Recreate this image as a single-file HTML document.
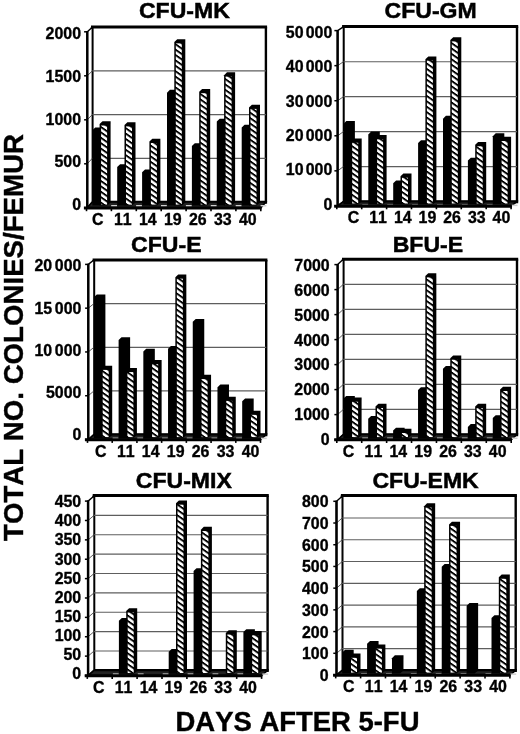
<!DOCTYPE html>
<html lang="en"><head><meta charset="utf-8"><title>Colony counts after 5-FU</title>
<style>html,body{margin:0;padding:0;background:#fff}body{width:520px;height:734px;overflow:hidden}svg text{font-kerning:none}</style></head>
<body>
<svg width="520" height="734" viewBox="0 0 520 734" style="display:block">
<defs>
<pattern id="h" width="10" height="5.4" patternUnits="userSpaceOnUse" patternTransform="translate(0 1.2) skewY(35)"><rect width="10" height="5.4" fill="#fff"/><rect width="10" height="2.25" fill="#000"/></pattern>
</defs>
<rect width="520" height="734" fill="#fff"/>
<g>
<text transform="translate(184.4 18.1) scale(1.012 1)" font-family='"Liberation Sans", Arial, Helvetica, sans-serif' font-weight="700" font-size="22.8" text-anchor="middle" fill="#000" stroke="#000" stroke-width="0.5">CFU-MK</text>
<path d="M265.9 26.9V202" stroke="#000" stroke-width="2.4" fill="none"/>
<path d="M91 26.9H267.1" stroke="#000" stroke-width="3" fill="none"/>
<path d="M92.2 26.9V202" stroke="#000" stroke-width="2.8" fill="none"/>
<path d="M92.3 202.2H267.1" stroke="#000" stroke-width="3" fill="none"/>
<path d="M92.3 27.2L87.3 31.8L87.3 207.8L92.3 202Z" fill="#fff" stroke="#000" stroke-width="1.4" stroke-linejoin="round"/>
<path d="M92.3 202L87.3 207.8L260.9 207.8L265.9 202Z" fill="#222" stroke="#000" stroke-width="1.6" stroke-linejoin="round"/>
<path d="M84.1 207.8H87.3" stroke="#000" stroke-width="1.5" fill="none"/>
<text transform="translate(81 210.23) scale(0.995 1)" font-family='"Liberation Sans", Arial, Helvetica, sans-serif' font-weight="700" font-size="16.0" text-anchor="end" fill="#000" stroke="#000" stroke-width="0.35">0</text>
<path d="M92.3 158.3H265.9" stroke="#5e5e5e" stroke-width="1.2" fill="none"/>
<path d="M92.3 158.3L87.3 163.8" stroke="#333" stroke-width="0.8" fill="none"/>
<path d="M84.1 163.8H87.3" stroke="#000" stroke-width="1.5" fill="none"/>
<text transform="translate(81 167.43) scale(0.995 1)" font-family='"Liberation Sans", Arial, Helvetica, sans-serif' font-weight="700" font-size="16.0" text-anchor="end" fill="#000" stroke="#000" stroke-width="0.35">500</text>
<path d="M92.3 114.6H265.9" stroke="#5e5e5e" stroke-width="1.2" fill="none"/>
<path d="M92.3 114.6L87.3 119.8" stroke="#333" stroke-width="0.8" fill="none"/>
<path d="M84.1 119.8H87.3" stroke="#000" stroke-width="1.5" fill="none"/>
<text transform="translate(81 124.63) scale(0.995 1)" font-family='"Liberation Sans", Arial, Helvetica, sans-serif' font-weight="700" font-size="16.0" text-anchor="end" fill="#000" stroke="#000" stroke-width="0.35">1000</text>
<path d="M92.3 70.9H265.9" stroke="#5e5e5e" stroke-width="1.2" fill="none"/>
<path d="M92.3 70.9L87.3 75.8" stroke="#333" stroke-width="0.8" fill="none"/>
<path d="M84.1 75.8H87.3" stroke="#000" stroke-width="1.5" fill="none"/>
<text transform="translate(81 81.83) scale(0.995 1)" font-family='"Liberation Sans", Arial, Helvetica, sans-serif' font-weight="700" font-size="16.0" text-anchor="end" fill="#000" stroke="#000" stroke-width="0.35">1500</text>
<path d="M84.1 31.8H87.3" stroke="#000" stroke-width="1.5" fill="none"/>
<text transform="translate(81 39.03) scale(0.995 1)" font-family='"Liberation Sans", Arial, Helvetica, sans-serif' font-weight="700" font-size="16.0" text-anchor="end" fill="#000" stroke="#000" stroke-width="0.35">2000</text>
<path d="M87.3 31.2V208.8" stroke="#000" stroke-width="2.5" fill="none"/>
<rect x="111.2" y="205" width="5.8" height="1.5" fill="#d0d0d0"/>
<path d="M92.3 130.24L95.2 127.44L103.8 127.44L103.8 202.6L100.3 205.4L92.3 205.4Z" fill="#000"/>
<path d="M99.6 124.12L102.5 121.32L110.6 121.32L110.6 202.6L107.1 205.4L99.6 205.4Z" fill="#000"/>
<rect x="101.1" y="125.52" width="6" height="79.08" fill="url(#h)"/>
<rect x="136.1" y="205" width="5.8" height="1.5" fill="#d0d0d0"/>
<path d="M117.2 166.94L120.1 164.14L128.7 164.14L128.7 202.6L125.2 205.4L117.2 205.4Z" fill="#000"/>
<path d="M124.5 124.99L127.4 122.19L135.5 122.19L135.5 202.6L132 205.4L124.5 205.4Z" fill="#000"/>
<rect x="126" y="126.39" width="6" height="78.21" fill="url(#h)"/>
<rect x="161" y="205" width="5.8" height="1.5" fill="#d0d0d0"/>
<path d="M142.1 172.19L145 169.39L153.6 169.39L153.6 202.6L150.1 205.4L142.1 205.4Z" fill="#000"/>
<path d="M149.4 141.6L152.3 138.8L160.4 138.8L160.4 202.6L156.9 205.4L149.4 205.4Z" fill="#000"/>
<rect x="150.9" y="143" width="6" height="61.6" fill="url(#h)"/>
<rect x="185.9" y="205" width="5.8" height="1.5" fill="#d0d0d0"/>
<path d="M167 92.65L169.9 89.85L178.5 89.85L178.5 202.6L175 205.4L167 205.4Z" fill="#000"/>
<path d="M174.3 41.96L177.2 39.16L185.3 39.16L185.3 202.6L181.8 205.4L174.3 205.4Z" fill="#000"/>
<rect x="175.8" y="43.36" width="6" height="161.24" fill="url(#h)"/>
<rect x="210.8" y="205" width="5.8" height="1.5" fill="#d0d0d0"/>
<path d="M191.9 145.97L194.8 143.17L203.4 143.17L203.4 202.6L199.9 205.4L191.9 205.4Z" fill="#000"/>
<path d="M199.2 91.78L202.1 88.98L210.2 88.98L210.2 202.6L206.7 205.4L199.2 205.4Z" fill="#000"/>
<rect x="200.7" y="93.18" width="6" height="111.42" fill="url(#h)"/>
<rect x="235.7" y="205" width="5.8" height="1.5" fill="#d0d0d0"/>
<path d="M216.8 121.5L219.7 118.7L228.3 118.7L228.3 202.6L224.8 205.4L216.8 205.4Z" fill="#000"/>
<path d="M224.1 75.17L227 72.37L235.1 72.37L235.1 202.6L231.6 205.4L224.1 205.4Z" fill="#000"/>
<rect x="225.6" y="76.57" width="6" height="128.03" fill="url(#h)"/>
<rect x="260.6" y="205" width="5.8" height="1.5" fill="#d0d0d0"/>
<path d="M241.7 127.61L244.6 124.81L253.2 124.81L253.2 202.6L249.7 205.4L241.7 205.4Z" fill="#000"/>
<path d="M249 107.51L251.9 104.71L260 104.71L260 202.6L256.5 205.4L249 205.4Z" fill="#000"/>
<rect x="250.5" y="108.91" width="6" height="95.69" fill="url(#h)"/>
<path d="M83.9 208.05H261.4" stroke="#000" stroke-width="3" fill="none"/>
<path d="M86.5 207.8v3.4" stroke="#000" stroke-width="1.6" fill="none"/>
<path d="M111.4 207.8v3.4" stroke="#000" stroke-width="1.6" fill="none"/>
<path d="M136.3 207.8v3.4" stroke="#000" stroke-width="1.6" fill="none"/>
<path d="M161.2 207.8v3.4" stroke="#000" stroke-width="1.6" fill="none"/>
<path d="M186.1 207.8v3.4" stroke="#000" stroke-width="1.6" fill="none"/>
<path d="M211 207.8v3.4" stroke="#000" stroke-width="1.6" fill="none"/>
<path d="M235.9 207.8v3.4" stroke="#000" stroke-width="1.6" fill="none"/>
<path d="M260.8 207.8v3.4" stroke="#000" stroke-width="1.6" fill="none"/>
<text transform="translate(97.8 225.1) scale(0.995 1)" font-family='"Liberation Sans", Arial, Helvetica, sans-serif' font-weight="700" font-size="16.0" text-anchor="middle" fill="#000" stroke="#000" stroke-width="0.35">C</text>
<text transform="translate(122.8 225.1) scale(0.995 1)" font-family='"Liberation Sans", Arial, Helvetica, sans-serif' font-weight="700" font-size="16.0" text-anchor="middle" fill="#000" stroke="#000" stroke-width="0.35">11</text>
<text transform="translate(147.8 225.1) scale(0.995 1)" font-family='"Liberation Sans", Arial, Helvetica, sans-serif' font-weight="700" font-size="16.0" text-anchor="middle" fill="#000" stroke="#000" stroke-width="0.35">14</text>
<text transform="translate(172.8 225.1) scale(0.995 1)" font-family='"Liberation Sans", Arial, Helvetica, sans-serif' font-weight="700" font-size="16.0" text-anchor="middle" fill="#000" stroke="#000" stroke-width="0.35">19</text>
<text transform="translate(197.8 225.1) scale(0.995 1)" font-family='"Liberation Sans", Arial, Helvetica, sans-serif' font-weight="700" font-size="16.0" text-anchor="middle" fill="#000" stroke="#000" stroke-width="0.35">26</text>
<text transform="translate(222.8 225.1) scale(0.995 1)" font-family='"Liberation Sans", Arial, Helvetica, sans-serif' font-weight="700" font-size="16.0" text-anchor="middle" fill="#000" stroke="#000" stroke-width="0.35">33</text>
<text transform="translate(247.8 225.1) scale(0.995 1)" font-family='"Liberation Sans", Arial, Helvetica, sans-serif' font-weight="700" font-size="16.0" text-anchor="middle" fill="#000" stroke="#000" stroke-width="0.35">40</text>
</g>
<g>
<text transform="translate(430.6 18.1) scale(1.012 1)" font-family='"Liberation Sans", Arial, Helvetica, sans-serif' font-weight="700" font-size="22.8" text-anchor="middle" fill="#000" stroke="#000" stroke-width="0.5">CFU-GM</text>
<path d="M517 26.5V201.6" stroke="#000" stroke-width="2.4" fill="none"/>
<path d="M342.1 26.5H518.2" stroke="#000" stroke-width="3" fill="none"/>
<path d="M343.3 26.5V201.6" stroke="#000" stroke-width="2.8" fill="none"/>
<path d="M343.4 201.8H518.2" stroke="#000" stroke-width="3" fill="none"/>
<path d="M343.4 26.8L337.6 30.6L337.6 205.9L343.4 201.6Z" fill="#fff" stroke="#000" stroke-width="1.4" stroke-linejoin="round"/>
<path d="M343.4 201.6L337.6 205.9L511.2 205.9L517 201.6Z" fill="#222" stroke="#000" stroke-width="1.6" stroke-linejoin="round"/>
<path d="M334.4 205.9H337.6" stroke="#000" stroke-width="1.5" fill="none"/>
<text transform="translate(332.3 209.93) scale(0.995 1)" font-family='"Liberation Sans", Arial, Helvetica, sans-serif' font-weight="700" font-size="16.0" text-anchor="end" fill="#000" stroke="#000" stroke-width="0.35">0</text>
<path d="M343.4 166.64H517" stroke="#5e5e5e" stroke-width="1.2" fill="none"/>
<path d="M343.4 166.64L337.6 170.84" stroke="#333" stroke-width="0.8" fill="none"/>
<path d="M334.4 170.84H337.6" stroke="#000" stroke-width="1.5" fill="none"/>
<text transform="translate(332.3 175.48) scale(0.995 1)" font-family='"Liberation Sans", Arial, Helvetica, sans-serif' font-weight="700" font-size="16.0" text-anchor="end" dx="0 0 2.2 0 0" fill="#000" stroke="#000" stroke-width="0.35">10000</text>
<path d="M343.4 131.68H517" stroke="#5e5e5e" stroke-width="1.2" fill="none"/>
<path d="M343.4 131.68L337.6 135.78" stroke="#333" stroke-width="0.8" fill="none"/>
<path d="M334.4 135.78H337.6" stroke="#000" stroke-width="1.5" fill="none"/>
<text transform="translate(332.3 141.03) scale(0.995 1)" font-family='"Liberation Sans", Arial, Helvetica, sans-serif' font-weight="700" font-size="16.0" text-anchor="end" dx="0 0 2.2 0 0" fill="#000" stroke="#000" stroke-width="0.35">20000</text>
<path d="M343.4 96.72H517" stroke="#5e5e5e" stroke-width="1.2" fill="none"/>
<path d="M343.4 96.72L337.6 100.72" stroke="#333" stroke-width="0.8" fill="none"/>
<path d="M334.4 100.72H337.6" stroke="#000" stroke-width="1.5" fill="none"/>
<text transform="translate(332.3 106.58) scale(0.995 1)" font-family='"Liberation Sans", Arial, Helvetica, sans-serif' font-weight="700" font-size="16.0" text-anchor="end" dx="0 0 2.2 0 0" fill="#000" stroke="#000" stroke-width="0.35">30000</text>
<path d="M343.4 61.76H517" stroke="#5e5e5e" stroke-width="1.2" fill="none"/>
<path d="M343.4 61.76L337.6 65.66" stroke="#333" stroke-width="0.8" fill="none"/>
<path d="M334.4 65.66H337.6" stroke="#000" stroke-width="1.5" fill="none"/>
<text transform="translate(332.3 72.13) scale(0.995 1)" font-family='"Liberation Sans", Arial, Helvetica, sans-serif' font-weight="700" font-size="16.0" text-anchor="end" dx="0 0 2.2 0 0" fill="#000" stroke="#000" stroke-width="0.35">40000</text>
<path d="M334.4 30.6H337.6" stroke="#000" stroke-width="1.5" fill="none"/>
<text transform="translate(332.3 37.68) scale(0.995 1)" font-family='"Liberation Sans", Arial, Helvetica, sans-serif' font-weight="700" font-size="16.0" text-anchor="end" dx="0 0 2.2 0 0" fill="#000" stroke="#000" stroke-width="0.35">50000</text>
<path d="M337.6 30V206.9" stroke="#000" stroke-width="2.5" fill="none"/>
<rect x="362.3" y="204.6" width="5.8" height="1.5" fill="#d0d0d0"/>
<path d="M343.4 123.89L346.3 121.09L354.9 121.09L354.9 201.5L351.4 204.3L343.4 204.3Z" fill="#000"/>
<path d="M350.7 141.37L353.6 138.57L361.7 138.57L361.7 201.5L358.2 204.3L350.7 204.3Z" fill="#000"/>
<rect x="352.2" y="142.77" width="6" height="60.73" fill="url(#h)"/>
<rect x="387.2" y="204.6" width="5.8" height="1.5" fill="#d0d0d0"/>
<path d="M368.3 134.38L371.2 131.58L379.8 131.58L379.8 201.5L376.3 204.3L368.3 204.3Z" fill="#000"/>
<path d="M375.6 137.88L378.5 135.08L386.6 135.08L386.6 201.5L383.1 204.3L375.6 204.3Z" fill="#000"/>
<rect x="377.1" y="139.28" width="6" height="64.22" fill="url(#h)"/>
<rect x="412.1" y="204.6" width="5.8" height="1.5" fill="#d0d0d0"/>
<path d="M393.2 183.32L396.1 180.52L404.7 180.52L404.7 201.5L401.2 204.3L393.2 204.3Z" fill="#000"/>
<path d="M400.5 176.33L403.4 173.53L411.5 173.53L411.5 201.5L408 204.3L400.5 204.3Z" fill="#000"/>
<rect x="402" y="177.73" width="6" height="25.77" fill="url(#h)"/>
<rect x="437" y="204.6" width="5.8" height="1.5" fill="#d0d0d0"/>
<path d="M418.1 143.12L421 140.32L429.6 140.32L429.6 201.5L426.1 204.3L418.1 204.3Z" fill="#000"/>
<path d="M425.4 59.22L428.3 56.42L436.4 56.42L436.4 201.5L432.9 204.3L425.4 204.3Z" fill="#000"/>
<rect x="426.9" y="60.62" width="6" height="142.88" fill="url(#h)"/>
<rect x="461.9" y="204.6" width="5.8" height="1.5" fill="#d0d0d0"/>
<path d="M443 118.65L445.9 115.85L454.5 115.85L454.5 201.5L451 204.3L443 204.3Z" fill="#000"/>
<path d="M450.3 39.99L453.2 37.19L461.3 37.19L461.3 201.5L457.8 204.3L450.3 204.3Z" fill="#000"/>
<rect x="451.8" y="41.39" width="6" height="162.11" fill="url(#h)"/>
<rect x="486.8" y="204.6" width="5.8" height="1.5" fill="#d0d0d0"/>
<path d="M467.9 160.6L470.8 157.8L479.4 157.8L479.4 201.5L475.9 204.3L467.9 204.3Z" fill="#000"/>
<path d="M475.2 144.87L478.1 142.07L486.2 142.07L486.2 201.5L482.7 204.3L475.2 204.3Z" fill="#000"/>
<rect x="476.7" y="146.27" width="6" height="57.23" fill="url(#h)"/>
<rect x="511.7" y="204.6" width="5.8" height="1.5" fill="#d0d0d0"/>
<path d="M492.8 136.13L495.7 133.33L504.3 133.33L504.3 201.5L500.8 204.3L492.8 204.3Z" fill="#000"/>
<path d="M500.1 139.62L503 136.82L511.1 136.82L511.1 201.5L507.6 204.3L500.1 204.3Z" fill="#000"/>
<rect x="501.6" y="141.02" width="6" height="62.48" fill="url(#h)"/>
<path d="M334.2 206.15H511.7" stroke="#000" stroke-width="3" fill="none"/>
<path d="M336.8 205.9v3.4" stroke="#000" stroke-width="1.6" fill="none"/>
<path d="M361.7 205.9v3.4" stroke="#000" stroke-width="1.6" fill="none"/>
<path d="M386.6 205.9v3.4" stroke="#000" stroke-width="1.6" fill="none"/>
<path d="M411.5 205.9v3.4" stroke="#000" stroke-width="1.6" fill="none"/>
<path d="M436.4 205.9v3.4" stroke="#000" stroke-width="1.6" fill="none"/>
<path d="M461.3 205.9v3.4" stroke="#000" stroke-width="1.6" fill="none"/>
<path d="M486.2 205.9v3.4" stroke="#000" stroke-width="1.6" fill="none"/>
<path d="M511.1 205.9v3.4" stroke="#000" stroke-width="1.6" fill="none"/>
<text transform="translate(353.4 223.2) scale(0.995 1)" font-family='"Liberation Sans", Arial, Helvetica, sans-serif' font-weight="700" font-size="16.0" text-anchor="middle" fill="#000" stroke="#000" stroke-width="0.35">C</text>
<text transform="translate(378.07 223.2) scale(0.995 1)" font-family='"Liberation Sans", Arial, Helvetica, sans-serif' font-weight="700" font-size="16.0" text-anchor="middle" fill="#000" stroke="#000" stroke-width="0.35">11</text>
<text transform="translate(402.74 223.2) scale(0.995 1)" font-family='"Liberation Sans", Arial, Helvetica, sans-serif' font-weight="700" font-size="16.0" text-anchor="middle" fill="#000" stroke="#000" stroke-width="0.35">14</text>
<text transform="translate(427.41 223.2) scale(0.995 1)" font-family='"Liberation Sans", Arial, Helvetica, sans-serif' font-weight="700" font-size="16.0" text-anchor="middle" fill="#000" stroke="#000" stroke-width="0.35">19</text>
<text transform="translate(452.08 223.2) scale(0.995 1)" font-family='"Liberation Sans", Arial, Helvetica, sans-serif' font-weight="700" font-size="16.0" text-anchor="middle" fill="#000" stroke="#000" stroke-width="0.35">26</text>
<text transform="translate(476.75 223.2) scale(0.995 1)" font-family='"Liberation Sans", Arial, Helvetica, sans-serif' font-weight="700" font-size="16.0" text-anchor="middle" fill="#000" stroke="#000" stroke-width="0.35">33</text>
<text transform="translate(501.42 223.2) scale(0.995 1)" font-family='"Liberation Sans", Arial, Helvetica, sans-serif' font-weight="700" font-size="16.0" text-anchor="middle" fill="#000" stroke="#000" stroke-width="0.35">40</text>
</g>
<g>
<text transform="translate(166.3 252) scale(1.012 1)" font-family='"Liberation Sans", Arial, Helvetica, sans-serif' font-weight="700" font-size="22.8" text-anchor="middle" fill="#000" stroke="#000" stroke-width="0.5">CFU-E</text>
<path d="M266.2 260V434.6" stroke="#000" stroke-width="2.4" fill="none"/>
<path d="M92.6 260H267.4" stroke="#000" stroke-width="3" fill="none"/>
<path d="M93.8 260V434.6" stroke="#000" stroke-width="2.8" fill="none"/>
<path d="M93.9 434.8H267.4" stroke="#000" stroke-width="3" fill="none"/>
<path d="M93.9 260L88.3 264.4L88.3 439.5L93.9 434.6Z" fill="#fff" stroke="#000" stroke-width="1.4" stroke-linejoin="round"/>
<path d="M93.9 434.6L88.3 439.5L260.6 439.5L266.2 434.6Z" fill="#222" stroke="#000" stroke-width="1.6" stroke-linejoin="round"/>
<path d="M85.1 439.5H88.3" stroke="#000" stroke-width="1.5" fill="none"/>
<text transform="translate(81.4 439.83) scale(0.995 1)" font-family='"Liberation Sans", Arial, Helvetica, sans-serif' font-weight="700" font-size="16.0" text-anchor="end" fill="#000" stroke="#000" stroke-width="0.35">0</text>
<path d="M93.9 390.95H266.2" stroke="#5e5e5e" stroke-width="1.2" fill="none"/>
<path d="M93.9 390.95L88.3 395.73" stroke="#333" stroke-width="0.8" fill="none"/>
<path d="M85.1 395.73H88.3" stroke="#000" stroke-width="1.5" fill="none"/>
<text transform="translate(81.4 397.73) scale(0.995 1)" font-family='"Liberation Sans", Arial, Helvetica, sans-serif' font-weight="700" font-size="16.0" text-anchor="end" fill="#000" stroke="#000" stroke-width="0.35">5000</text>
<path d="M93.9 347.3H266.2" stroke="#5e5e5e" stroke-width="1.2" fill="none"/>
<path d="M93.9 347.3L88.3 351.95" stroke="#333" stroke-width="0.8" fill="none"/>
<path d="M85.1 351.95H88.3" stroke="#000" stroke-width="1.5" fill="none"/>
<text transform="translate(81.4 355.63) scale(0.995 1)" font-family='"Liberation Sans", Arial, Helvetica, sans-serif' font-weight="700" font-size="16.0" text-anchor="end" dx="0 0 2.7 0 0" fill="#000" stroke="#000" stroke-width="0.35">10000</text>
<path d="M93.9 303.65H266.2" stroke="#5e5e5e" stroke-width="1.2" fill="none"/>
<path d="M93.9 303.65L88.3 308.17" stroke="#333" stroke-width="0.8" fill="none"/>
<path d="M85.1 308.17H88.3" stroke="#000" stroke-width="1.5" fill="none"/>
<text transform="translate(81.4 313.53) scale(0.995 1)" font-family='"Liberation Sans", Arial, Helvetica, sans-serif' font-weight="700" font-size="16.0" text-anchor="end" dx="0 0 2.7 0 0" fill="#000" stroke="#000" stroke-width="0.35">15000</text>
<path d="M85.1 264.4H88.3" stroke="#000" stroke-width="1.5" fill="none"/>
<text transform="translate(81.4 271.43) scale(0.995 1)" font-family='"Liberation Sans", Arial, Helvetica, sans-serif' font-weight="700" font-size="16.0" text-anchor="end" dx="0 0 2.7 0 0" fill="#000" stroke="#000" stroke-width="0.35">20000</text>
<path d="M88.3 263.8V440.5" stroke="#000" stroke-width="2.5" fill="none"/>
<rect x="112.61" y="437.6" width="5.8" height="1.5" fill="#d0d0d0"/>
<path d="M93.9 297.35L96.8 294.55L105.4 294.55L105.4 435.1L101.9 437.9L93.9 437.9Z" fill="#000"/>
<path d="M101.2 368.5L104.1 365.7L112.2 365.7L112.2 435.1L108.7 437.9L101.2 437.9Z" fill="#000"/>
<rect x="102.7" y="369.9" width="6" height="67.2" fill="url(#h)"/>
<rect x="137.33" y="437.6" width="5.8" height="1.5" fill="#d0d0d0"/>
<path d="M118.61 340.12L121.51 337.32L130.11 337.32L130.11 435.1L126.61 437.9L118.61 437.9Z" fill="#000"/>
<path d="M125.91 370.68L128.81 367.88L136.91 367.88L136.91 435.1L133.41 437.9L125.91 437.9Z" fill="#000"/>
<rect x="127.41" y="372.08" width="6" height="65.02" fill="url(#h)"/>
<rect x="162.04" y="437.6" width="5.8" height="1.5" fill="#d0d0d0"/>
<path d="M143.33 351.47L146.23 348.67L154.83 348.67L154.83 435.1L151.33 437.9L143.33 437.9Z" fill="#000"/>
<path d="M150.63 362.82L153.53 360.02L161.63 360.02L161.63 435.1L158.13 437.9L150.63 437.9Z" fill="#000"/>
<rect x="152.13" y="364.22" width="6" height="72.88" fill="url(#h)"/>
<rect x="186.76" y="437.6" width="5.8" height="1.5" fill="#d0d0d0"/>
<path d="M168.04 348.85L170.94 346.05L179.54 346.05L179.54 435.1L176.04 437.9L168.04 437.9Z" fill="#000"/>
<path d="M175.34 277.27L178.24 274.47L186.34 274.47L186.34 435.1L182.84 437.9L175.34 437.9Z" fill="#000"/>
<rect x="176.84" y="278.67" width="6" height="158.43" fill="url(#h)"/>
<rect x="211.47" y="437.6" width="5.8" height="1.5" fill="#d0d0d0"/>
<path d="M192.76 321.79L195.66 318.99L204.26 318.99L204.26 435.1L200.76 437.9L192.76 437.9Z" fill="#000"/>
<path d="M200.06 377.66L202.96 374.86L211.06 374.86L211.06 435.1L207.56 437.9L200.06 437.9Z" fill="#000"/>
<rect x="201.56" y="379.06" width="6" height="58.04" fill="url(#h)"/>
<rect x="236.19" y="437.6" width="5.8" height="1.5" fill="#d0d0d0"/>
<path d="M217.47 387.27L220.37 384.47L228.97 384.47L228.97 435.1L225.47 437.9L217.47 437.9Z" fill="#000"/>
<path d="M224.77 399.49L227.67 396.69L235.77 396.69L235.77 435.1L232.27 437.9L224.77 437.9Z" fill="#000"/>
<rect x="226.27" y="400.89" width="6" height="36.21" fill="url(#h)"/>
<rect x="260.9" y="437.6" width="5.8" height="1.5" fill="#d0d0d0"/>
<path d="M242.19 401.23L245.09 398.43L253.69 398.43L253.69 435.1L250.19 437.9L242.19 437.9Z" fill="#000"/>
<path d="M249.49 413.46L252.39 410.66L260.49 410.66L260.49 435.1L256.99 437.9L249.49 437.9Z" fill="#000"/>
<rect x="250.99" y="414.86" width="6" height="22.24" fill="url(#h)"/>
<path d="M84.9 439.75H261.1" stroke="#000" stroke-width="3" fill="none"/>
<path d="M87.5 439.5v3.4" stroke="#000" stroke-width="1.6" fill="none"/>
<path d="M112.21 439.5v3.4" stroke="#000" stroke-width="1.6" fill="none"/>
<path d="M136.93 439.5v3.4" stroke="#000" stroke-width="1.6" fill="none"/>
<path d="M161.64 439.5v3.4" stroke="#000" stroke-width="1.6" fill="none"/>
<path d="M186.36 439.5v3.4" stroke="#000" stroke-width="1.6" fill="none"/>
<path d="M211.07 439.5v3.4" stroke="#000" stroke-width="1.6" fill="none"/>
<path d="M235.79 439.5v3.4" stroke="#000" stroke-width="1.6" fill="none"/>
<path d="M260.5 439.5v3.4" stroke="#000" stroke-width="1.6" fill="none"/>
<text transform="translate(100.8 456.8) scale(0.995 1)" font-family='"Liberation Sans", Arial, Helvetica, sans-serif' font-weight="700" font-size="16.0" text-anchor="middle" fill="#000" stroke="#000" stroke-width="0.35">C</text>
<text transform="translate(125.75 456.8) scale(0.995 1)" font-family='"Liberation Sans", Arial, Helvetica, sans-serif' font-weight="700" font-size="16.0" text-anchor="middle" fill="#000" stroke="#000" stroke-width="0.35">11</text>
<text transform="translate(150.7 456.8) scale(0.995 1)" font-family='"Liberation Sans", Arial, Helvetica, sans-serif' font-weight="700" font-size="16.0" text-anchor="middle" fill="#000" stroke="#000" stroke-width="0.35">14</text>
<text transform="translate(175.65 456.8) scale(0.995 1)" font-family='"Liberation Sans", Arial, Helvetica, sans-serif' font-weight="700" font-size="16.0" text-anchor="middle" fill="#000" stroke="#000" stroke-width="0.35">19</text>
<text transform="translate(200.6 456.8) scale(0.995 1)" font-family='"Liberation Sans", Arial, Helvetica, sans-serif' font-weight="700" font-size="16.0" text-anchor="middle" fill="#000" stroke="#000" stroke-width="0.35">26</text>
<text transform="translate(225.55 456.8) scale(0.995 1)" font-family='"Liberation Sans", Arial, Helvetica, sans-serif' font-weight="700" font-size="16.0" text-anchor="middle" fill="#000" stroke="#000" stroke-width="0.35">33</text>
<text transform="translate(250.5 456.8) scale(0.995 1)" font-family='"Liberation Sans", Arial, Helvetica, sans-serif' font-weight="700" font-size="16.0" text-anchor="middle" fill="#000" stroke="#000" stroke-width="0.35">40</text>
</g>
<g>
<text transform="translate(427.9 252) scale(1.012 1)" font-family='"Liberation Sans", Arial, Helvetica, sans-serif' font-weight="700" font-size="22.8" text-anchor="middle" fill="#000" stroke="#000" stroke-width="0.5">BFU-E</text>
<path d="M517 259.3V434.5" stroke="#000" stroke-width="2.4" fill="none"/>
<path d="M342 259.3H518.2" stroke="#000" stroke-width="3" fill="none"/>
<path d="M343.2 259.3V434.5" stroke="#000" stroke-width="2.8" fill="none"/>
<path d="M343.3 434.7H518.2" stroke="#000" stroke-width="3" fill="none"/>
<path d="M343.3 259.3L337.6 264.6L337.6 439.6L343.3 434.5Z" fill="#fff" stroke="#000" stroke-width="1.4" stroke-linejoin="round"/>
<path d="M343.3 434.5L337.6 439.6L511.3 439.6L517 434.5Z" fill="#222" stroke="#000" stroke-width="1.6" stroke-linejoin="round"/>
<path d="M334.4 439.6H337.6" stroke="#000" stroke-width="1.5" fill="none"/>
<text transform="translate(329.7 445.13) scale(0.995 1)" font-family='"Liberation Sans", Arial, Helvetica, sans-serif' font-weight="700" font-size="16.0" text-anchor="end" fill="#000" stroke="#000" stroke-width="0.35">0</text>
<path d="M343.3 409.47H517" stroke="#5e5e5e" stroke-width="1.2" fill="none"/>
<path d="M343.3 409.47L337.6 414.6" stroke="#333" stroke-width="0.8" fill="none"/>
<path d="M334.4 414.6H337.6" stroke="#000" stroke-width="1.5" fill="none"/>
<text transform="translate(329.7 420.23) scale(0.995 1)" font-family='"Liberation Sans", Arial, Helvetica, sans-serif' font-weight="700" font-size="16.0" text-anchor="end" fill="#000" stroke="#000" stroke-width="0.35">1000</text>
<path d="M343.3 384.44H517" stroke="#5e5e5e" stroke-width="1.2" fill="none"/>
<path d="M343.3 384.44L337.6 389.6" stroke="#333" stroke-width="0.8" fill="none"/>
<path d="M334.4 389.6H337.6" stroke="#000" stroke-width="1.5" fill="none"/>
<text transform="translate(329.7 395.33) scale(0.995 1)" font-family='"Liberation Sans", Arial, Helvetica, sans-serif' font-weight="700" font-size="16.0" text-anchor="end" fill="#000" stroke="#000" stroke-width="0.35">2000</text>
<path d="M343.3 359.41H517" stroke="#5e5e5e" stroke-width="1.2" fill="none"/>
<path d="M343.3 359.41L337.6 364.6" stroke="#333" stroke-width="0.8" fill="none"/>
<path d="M334.4 364.6H337.6" stroke="#000" stroke-width="1.5" fill="none"/>
<text transform="translate(329.7 370.43) scale(0.995 1)" font-family='"Liberation Sans", Arial, Helvetica, sans-serif' font-weight="700" font-size="16.0" text-anchor="end" fill="#000" stroke="#000" stroke-width="0.35">3000</text>
<path d="M343.3 334.39H517" stroke="#5e5e5e" stroke-width="1.2" fill="none"/>
<path d="M343.3 334.39L337.6 339.6" stroke="#333" stroke-width="0.8" fill="none"/>
<path d="M334.4 339.6H337.6" stroke="#000" stroke-width="1.5" fill="none"/>
<text transform="translate(329.7 345.53) scale(0.995 1)" font-family='"Liberation Sans", Arial, Helvetica, sans-serif' font-weight="700" font-size="16.0" text-anchor="end" fill="#000" stroke="#000" stroke-width="0.35">4000</text>
<path d="M343.3 309.36H517" stroke="#5e5e5e" stroke-width="1.2" fill="none"/>
<path d="M343.3 309.36L337.6 314.6" stroke="#333" stroke-width="0.8" fill="none"/>
<path d="M334.4 314.6H337.6" stroke="#000" stroke-width="1.5" fill="none"/>
<text transform="translate(329.7 320.63) scale(0.995 1)" font-family='"Liberation Sans", Arial, Helvetica, sans-serif' font-weight="700" font-size="16.0" text-anchor="end" fill="#000" stroke="#000" stroke-width="0.35">5000</text>
<path d="M343.3 284.33H517" stroke="#5e5e5e" stroke-width="1.2" fill="none"/>
<path d="M343.3 284.33L337.6 289.6" stroke="#333" stroke-width="0.8" fill="none"/>
<path d="M334.4 289.6H337.6" stroke="#000" stroke-width="1.5" fill="none"/>
<text transform="translate(329.7 295.73) scale(0.995 1)" font-family='"Liberation Sans", Arial, Helvetica, sans-serif' font-weight="700" font-size="16.0" text-anchor="end" fill="#000" stroke="#000" stroke-width="0.35">6000</text>
<path d="M334.4 264.6H337.6" stroke="#000" stroke-width="1.5" fill="none"/>
<text transform="translate(329.7 270.83) scale(0.995 1)" font-family='"Liberation Sans", Arial, Helvetica, sans-serif' font-weight="700" font-size="16.0" text-anchor="end" fill="#000" stroke="#000" stroke-width="0.35">7000</text>
<path d="M337.6 264V440.6" stroke="#000" stroke-width="2.5" fill="none"/>
<rect x="362.21" y="437.5" width="5.8" height="1.5" fill="#d0d0d0"/>
<path d="M343.3 398.86L346.2 396.06L354.8 396.06L354.8 435.1L351.3 437.9L343.3 437.9Z" fill="#000"/>
<path d="M350.6 400.36L353.5 397.56L361.6 397.56L361.6 435.1L358.1 437.9L350.6 437.9Z" fill="#000"/>
<rect x="352.1" y="401.76" width="6" height="35.34" fill="url(#h)"/>
<rect x="387.13" y="437.5" width="5.8" height="1.5" fill="#d0d0d0"/>
<path d="M368.21 418.75L371.11 415.95L379.71 415.95L379.71 435.1L376.21 437.9L368.21 437.9Z" fill="#000"/>
<path d="M375.51 406.61L378.41 403.81L386.51 403.81L386.51 435.1L383.01 437.9L375.51 437.9Z" fill="#000"/>
<rect x="377.01" y="408.01" width="6" height="29.09" fill="url(#h)"/>
<rect x="412.04" y="437.5" width="5.8" height="1.5" fill="#d0d0d0"/>
<path d="M393.13 430.52L396.03 427.72L404.63 427.72L404.63 435.1L401.13 437.9L393.13 437.9Z" fill="#000"/>
<path d="M400.43 431.64L403.33 428.84L411.43 428.84L411.43 435.1L407.93 437.9L400.43 437.9Z" fill="#000"/>
<rect x="401.93" y="433.04" width="6" height="4.06" fill="url(#h)"/>
<rect x="436.96" y="437.5" width="5.8" height="1.5" fill="#d0d0d0"/>
<path d="M418.04 389.97L420.94 387.17L429.54 387.17L429.54 435.1L426.04 437.9L418.04 437.9Z" fill="#000"/>
<path d="M425.34 275.97L428.24 273.17L436.34 273.17L436.34 435.1L432.84 437.9L425.34 437.9Z" fill="#000"/>
<rect x="426.84" y="277.37" width="6" height="159.73" fill="url(#h)"/>
<rect x="461.87" y="437.5" width="5.8" height="1.5" fill="#d0d0d0"/>
<path d="M442.96 368.82L445.86 366.02L454.46 366.02L454.46 435.1L450.96 437.9L442.96 437.9Z" fill="#000"/>
<path d="M450.26 358.31L453.16 355.51L461.26 355.51L461.26 435.1L457.76 437.9L450.26 437.9Z" fill="#000"/>
<rect x="451.76" y="359.71" width="6" height="77.39" fill="url(#h)"/>
<rect x="486.79" y="437.5" width="5.8" height="1.5" fill="#d0d0d0"/>
<path d="M467.87 426.89L470.77 424.09L479.37 424.09L479.37 435.1L475.87 437.9L467.87 437.9Z" fill="#000"/>
<path d="M475.17 406.61L478.07 403.81L486.17 403.81L486.17 435.1L482.67 437.9L475.17 437.9Z" fill="#000"/>
<rect x="476.67" y="408.01" width="6" height="29.09" fill="url(#h)"/>
<rect x="511.7" y="437.5" width="5.8" height="1.5" fill="#d0d0d0"/>
<path d="M492.79 418L495.69 415.2L504.29 415.2L504.29 435.1L500.79 437.9L492.79 437.9Z" fill="#000"/>
<path d="M500.09 389.59L502.99 386.79L511.09 386.79L511.09 435.1L507.59 437.9L500.09 437.9Z" fill="#000"/>
<rect x="501.59" y="390.99" width="6" height="46.11" fill="url(#h)"/>
<path d="M334.2 439.85H511.8" stroke="#000" stroke-width="3" fill="none"/>
<path d="M336.8 439.6v3.4" stroke="#000" stroke-width="1.6" fill="none"/>
<path d="M361.71 439.6v3.4" stroke="#000" stroke-width="1.6" fill="none"/>
<path d="M386.63 439.6v3.4" stroke="#000" stroke-width="1.6" fill="none"/>
<path d="M411.54 439.6v3.4" stroke="#000" stroke-width="1.6" fill="none"/>
<path d="M436.46 439.6v3.4" stroke="#000" stroke-width="1.6" fill="none"/>
<path d="M461.37 439.6v3.4" stroke="#000" stroke-width="1.6" fill="none"/>
<path d="M486.29 439.6v3.4" stroke="#000" stroke-width="1.6" fill="none"/>
<path d="M511.2 439.6v3.4" stroke="#000" stroke-width="1.6" fill="none"/>
<text transform="translate(348.6 456.9) scale(0.995 1)" font-family='"Liberation Sans", Arial, Helvetica, sans-serif' font-weight="700" font-size="16.0" text-anchor="middle" fill="#000" stroke="#000" stroke-width="0.35">C</text>
<text transform="translate(373.45 456.9) scale(0.995 1)" font-family='"Liberation Sans", Arial, Helvetica, sans-serif' font-weight="700" font-size="16.0" text-anchor="middle" fill="#000" stroke="#000" stroke-width="0.35">11</text>
<text transform="translate(398.3 456.9) scale(0.995 1)" font-family='"Liberation Sans", Arial, Helvetica, sans-serif' font-weight="700" font-size="16.0" text-anchor="middle" fill="#000" stroke="#000" stroke-width="0.35">14</text>
<text transform="translate(423.15 456.9) scale(0.995 1)" font-family='"Liberation Sans", Arial, Helvetica, sans-serif' font-weight="700" font-size="16.0" text-anchor="middle" fill="#000" stroke="#000" stroke-width="0.35">19</text>
<text transform="translate(448 456.9) scale(0.995 1)" font-family='"Liberation Sans", Arial, Helvetica, sans-serif' font-weight="700" font-size="16.0" text-anchor="middle" fill="#000" stroke="#000" stroke-width="0.35">26</text>
<text transform="translate(472.85 456.9) scale(0.995 1)" font-family='"Liberation Sans", Arial, Helvetica, sans-serif' font-weight="700" font-size="16.0" text-anchor="middle" fill="#000" stroke="#000" stroke-width="0.35">33</text>
<text transform="translate(497.7 456.9) scale(0.995 1)" font-family='"Liberation Sans", Arial, Helvetica, sans-serif' font-weight="700" font-size="16.0" text-anchor="middle" fill="#000" stroke="#000" stroke-width="0.35">40</text>
</g>
<g>
<text transform="translate(183.8 487.5) scale(1.012 1)" font-family='"Liberation Sans", Arial, Helvetica, sans-serif' font-weight="700" font-size="22.8" text-anchor="middle" fill="#000" stroke="#000" stroke-width="0.5">CFU-MIX</text>
<path d="M267.6 495.6V670.4" stroke="#000" stroke-width="2.4" fill="none"/>
<path d="M92.7 495.6H268.8" stroke="#000" stroke-width="3" fill="none"/>
<path d="M93.9 495.6V670.4" stroke="#000" stroke-width="2.8" fill="none"/>
<path d="M94 670.6H268.8" stroke="#000" stroke-width="3" fill="none"/>
<path d="M94 496L88.1 501.1L88.1 675.5L94 670.4Z" fill="#fff" stroke="#000" stroke-width="1.4" stroke-linejoin="round"/>
<path d="M94 670.4L88.1 675.5L261.7 675.5L267.6 670.4Z" fill="#222" stroke="#000" stroke-width="1.6" stroke-linejoin="round"/>
<path d="M84.9 675.5H88.1" stroke="#000" stroke-width="1.5" fill="none"/>
<text transform="translate(81.2 679.43) scale(0.995 1)" font-family='"Liberation Sans", Arial, Helvetica, sans-serif' font-weight="700" font-size="16.0" text-anchor="end" fill="#000" stroke="#000" stroke-width="0.35">0</text>
<path d="M94 651.02H267.6" stroke="#5e5e5e" stroke-width="1.2" fill="none"/>
<path d="M94 651.02L88.1 656.12" stroke="#333" stroke-width="0.8" fill="none"/>
<path d="M84.9 656.12H88.1" stroke="#000" stroke-width="1.5" fill="none"/>
<text transform="translate(81.2 660.29) scale(0.995 1)" font-family='"Liberation Sans", Arial, Helvetica, sans-serif' font-weight="700" font-size="16.0" text-anchor="end" fill="#000" stroke="#000" stroke-width="0.35">50</text>
<path d="M94 631.64H267.6" stroke="#5e5e5e" stroke-width="1.2" fill="none"/>
<path d="M94 631.64L88.1 636.74" stroke="#333" stroke-width="0.8" fill="none"/>
<path d="M84.9 636.74H88.1" stroke="#000" stroke-width="1.5" fill="none"/>
<text transform="translate(81.2 641.15) scale(0.995 1)" font-family='"Liberation Sans", Arial, Helvetica, sans-serif' font-weight="700" font-size="16.0" text-anchor="end" fill="#000" stroke="#000" stroke-width="0.35">100</text>
<path d="M94 612.27H267.6" stroke="#5e5e5e" stroke-width="1.2" fill="none"/>
<path d="M94 612.27L88.1 617.37" stroke="#333" stroke-width="0.8" fill="none"/>
<path d="M84.9 617.37H88.1" stroke="#000" stroke-width="1.5" fill="none"/>
<text transform="translate(81.2 622.01) scale(0.995 1)" font-family='"Liberation Sans", Arial, Helvetica, sans-serif' font-weight="700" font-size="16.0" text-anchor="end" fill="#000" stroke="#000" stroke-width="0.35">150</text>
<path d="M94 592.89H267.6" stroke="#5e5e5e" stroke-width="1.2" fill="none"/>
<path d="M94 592.89L88.1 597.99" stroke="#333" stroke-width="0.8" fill="none"/>
<path d="M84.9 597.99H88.1" stroke="#000" stroke-width="1.5" fill="none"/>
<text transform="translate(81.2 602.87) scale(0.995 1)" font-family='"Liberation Sans", Arial, Helvetica, sans-serif' font-weight="700" font-size="16.0" text-anchor="end" fill="#000" stroke="#000" stroke-width="0.35">200</text>
<path d="M94 573.51H267.6" stroke="#5e5e5e" stroke-width="1.2" fill="none"/>
<path d="M94 573.51L88.1 578.61" stroke="#333" stroke-width="0.8" fill="none"/>
<path d="M84.9 578.61H88.1" stroke="#000" stroke-width="1.5" fill="none"/>
<text transform="translate(81.2 583.73) scale(0.995 1)" font-family='"Liberation Sans", Arial, Helvetica, sans-serif' font-weight="700" font-size="16.0" text-anchor="end" fill="#000" stroke="#000" stroke-width="0.35">250</text>
<path d="M94 554.13H267.6" stroke="#5e5e5e" stroke-width="1.2" fill="none"/>
<path d="M94 554.13L88.1 559.23" stroke="#333" stroke-width="0.8" fill="none"/>
<path d="M84.9 559.23H88.1" stroke="#000" stroke-width="1.5" fill="none"/>
<text transform="translate(81.2 564.59) scale(0.995 1)" font-family='"Liberation Sans", Arial, Helvetica, sans-serif' font-weight="700" font-size="16.0" text-anchor="end" fill="#000" stroke="#000" stroke-width="0.35">300</text>
<path d="M94 534.76H267.6" stroke="#5e5e5e" stroke-width="1.2" fill="none"/>
<path d="M94 534.76L88.1 539.86" stroke="#333" stroke-width="0.8" fill="none"/>
<path d="M84.9 539.86H88.1" stroke="#000" stroke-width="1.5" fill="none"/>
<text transform="translate(81.2 545.45) scale(0.995 1)" font-family='"Liberation Sans", Arial, Helvetica, sans-serif' font-weight="700" font-size="16.0" text-anchor="end" fill="#000" stroke="#000" stroke-width="0.35">350</text>
<path d="M94 515.38H267.6" stroke="#5e5e5e" stroke-width="1.2" fill="none"/>
<path d="M94 515.38L88.1 520.48" stroke="#333" stroke-width="0.8" fill="none"/>
<path d="M84.9 520.48H88.1" stroke="#000" stroke-width="1.5" fill="none"/>
<text transform="translate(81.2 526.31) scale(0.995 1)" font-family='"Liberation Sans", Arial, Helvetica, sans-serif' font-weight="700" font-size="16.0" text-anchor="end" fill="#000" stroke="#000" stroke-width="0.35">400</text>
<path d="M84.9 501.1H88.1" stroke="#000" stroke-width="1.5" fill="none"/>
<text transform="translate(81.2 507.17) scale(0.995 1)" font-family='"Liberation Sans", Arial, Helvetica, sans-serif' font-weight="700" font-size="16.0" text-anchor="end" fill="#000" stroke="#000" stroke-width="0.35">450</text>
<path d="M88.1 500.5V676.5" stroke="#000" stroke-width="2.5" fill="none"/>
<rect x="112.9" y="673.4" width="5.8" height="1.5" fill="#d0d0d0"/>
<rect x="137.8" y="673.4" width="5.8" height="1.5" fill="#d0d0d0"/>
<path d="M118.9 620.7L121.8 617.9L130.4 617.9L130.4 671L126.9 673.8L118.9 673.8Z" fill="#000"/>
<path d="M126.2 611.02L129.1 608.22L137.2 608.22L137.2 671L133.7 673.8L126.2 673.8Z" fill="#000"/>
<rect x="127.7" y="612.42" width="6" height="60.58" fill="url(#h)"/>
<rect x="162.7" y="673.4" width="5.8" height="1.5" fill="#d0d0d0"/>
<rect x="187.6" y="673.4" width="5.8" height="1.5" fill="#d0d0d0"/>
<path d="M168.7 651.71L171.6 648.91L180.2 648.91L180.2 671L176.7 673.8L168.7 673.8Z" fill="#000"/>
<path d="M176 503.28L178.9 500.48L187 500.48L187 671L183.5 673.8L176 673.8Z" fill="#000"/>
<rect x="177.5" y="504.68" width="6" height="168.32" fill="url(#h)"/>
<rect x="212.5" y="673.4" width="5.8" height="1.5" fill="#d0d0d0"/>
<path d="M193.6 571.1L196.5 568.3L205.1 568.3L205.1 671L201.6 673.8L193.6 673.8Z" fill="#000"/>
<path d="M200.9 529.63L203.8 526.83L211.9 526.83L211.9 671L208.4 673.8L200.9 673.8Z" fill="#000"/>
<rect x="202.4" y="531.03" width="6" height="141.97" fill="url(#h)"/>
<rect x="237.4" y="673.4" width="5.8" height="1.5" fill="#d0d0d0"/>
<path d="M225.8 633.11L228.7 630.31L236.8 630.31L236.8 671L233.3 673.8L225.8 673.8Z" fill="#000"/>
<rect x="227.3" y="634.51" width="6" height="38.49" fill="url(#h)"/>
<rect x="262.3" y="673.4" width="5.8" height="1.5" fill="#d0d0d0"/>
<path d="M243.4 631.94L246.3 629.14L254.9 629.14L254.9 671L251.4 673.8L243.4 673.8Z" fill="#000"/>
<path d="M250.7 633.88L253.6 631.08L261.7 631.08L261.7 671L258.2 673.8L250.7 673.8Z" fill="#000"/>
<rect x="252.2" y="635.28" width="6" height="37.72" fill="url(#h)"/>
<path d="M84.7 675.75H262.2" stroke="#000" stroke-width="3" fill="none"/>
<path d="M87.3 675.5v3.4" stroke="#000" stroke-width="1.6" fill="none"/>
<path d="M112.2 675.5v3.4" stroke="#000" stroke-width="1.6" fill="none"/>
<path d="M137.1 675.5v3.4" stroke="#000" stroke-width="1.6" fill="none"/>
<path d="M162 675.5v3.4" stroke="#000" stroke-width="1.6" fill="none"/>
<path d="M186.9 675.5v3.4" stroke="#000" stroke-width="1.6" fill="none"/>
<path d="M211.8 675.5v3.4" stroke="#000" stroke-width="1.6" fill="none"/>
<path d="M236.7 675.5v3.4" stroke="#000" stroke-width="1.6" fill="none"/>
<path d="M261.6 675.5v3.4" stroke="#000" stroke-width="1.6" fill="none"/>
<text transform="translate(98.7 692.8) scale(0.995 1)" font-family='"Liberation Sans", Arial, Helvetica, sans-serif' font-weight="700" font-size="16.0" text-anchor="middle" fill="#000" stroke="#000" stroke-width="0.35">C</text>
<text transform="translate(123.6 692.8) scale(0.995 1)" font-family='"Liberation Sans", Arial, Helvetica, sans-serif' font-weight="700" font-size="16.0" text-anchor="middle" fill="#000" stroke="#000" stroke-width="0.35">11</text>
<text transform="translate(148.5 692.8) scale(0.995 1)" font-family='"Liberation Sans", Arial, Helvetica, sans-serif' font-weight="700" font-size="16.0" text-anchor="middle" fill="#000" stroke="#000" stroke-width="0.35">14</text>
<text transform="translate(173.4 692.8) scale(0.995 1)" font-family='"Liberation Sans", Arial, Helvetica, sans-serif' font-weight="700" font-size="16.0" text-anchor="middle" fill="#000" stroke="#000" stroke-width="0.35">19</text>
<text transform="translate(198.3 692.8) scale(0.995 1)" font-family='"Liberation Sans", Arial, Helvetica, sans-serif' font-weight="700" font-size="16.0" text-anchor="middle" fill="#000" stroke="#000" stroke-width="0.35">26</text>
<text transform="translate(223.2 692.8) scale(0.995 1)" font-family='"Liberation Sans", Arial, Helvetica, sans-serif' font-weight="700" font-size="16.0" text-anchor="middle" fill="#000" stroke="#000" stroke-width="0.35">33</text>
<text transform="translate(248.1 692.8) scale(0.995 1)" font-family='"Liberation Sans", Arial, Helvetica, sans-serif' font-weight="700" font-size="16.0" text-anchor="middle" fill="#000" stroke="#000" stroke-width="0.35">40</text>
</g>
<g>
<text transform="translate(425.6 487.5) scale(1.012 1)" font-family='"Liberation Sans", Arial, Helvetica, sans-serif' font-weight="700" font-size="22.8" text-anchor="middle" fill="#000" stroke="#000" stroke-width="0.5">CFU-EMK</text>
<path d="M515.7 495.4V670.4" stroke="#000" stroke-width="2.4" fill="none"/>
<path d="M340.9 495.4H516.9" stroke="#000" stroke-width="3" fill="none"/>
<path d="M342.1 495.4V670.4" stroke="#000" stroke-width="2.8" fill="none"/>
<path d="M342.2 670.6H516.9" stroke="#000" stroke-width="3" fill="none"/>
<path d="M342.2 496.2L336.5 501.3L336.5 675L342.2 670.4Z" fill="#fff" stroke="#000" stroke-width="1.4" stroke-linejoin="round"/>
<path d="M342.2 670.4L336.5 675L510 675L515.7 670.4Z" fill="#222" stroke="#000" stroke-width="1.6" stroke-linejoin="round"/>
<path d="M333.3 675H336.5" stroke="#000" stroke-width="1.5" fill="none"/>
<text transform="translate(328.5 681.13) scale(0.995 1)" font-family='"Liberation Sans", Arial, Helvetica, sans-serif' font-weight="700" font-size="16.0" text-anchor="end" fill="#000" stroke="#000" stroke-width="0.35">0</text>
<path d="M342.2 648.62H515.7" stroke="#5e5e5e" stroke-width="1.2" fill="none"/>
<path d="M342.2 648.62L336.5 653.29" stroke="#333" stroke-width="0.8" fill="none"/>
<path d="M333.3 653.29H336.5" stroke="#000" stroke-width="1.5" fill="none"/>
<text transform="translate(328.5 659.39) scale(0.995 1)" font-family='"Liberation Sans", Arial, Helvetica, sans-serif' font-weight="700" font-size="16.0" text-anchor="end" fill="#000" stroke="#000" stroke-width="0.35">100</text>
<path d="M342.2 626.85H515.7" stroke="#5e5e5e" stroke-width="1.2" fill="none"/>
<path d="M342.2 626.85L336.5 631.58" stroke="#333" stroke-width="0.8" fill="none"/>
<path d="M333.3 631.58H336.5" stroke="#000" stroke-width="1.5" fill="none"/>
<text transform="translate(328.5 637.65) scale(0.995 1)" font-family='"Liberation Sans", Arial, Helvetica, sans-serif' font-weight="700" font-size="16.0" text-anchor="end" fill="#000" stroke="#000" stroke-width="0.35">200</text>
<path d="M342.2 605.08H515.7" stroke="#5e5e5e" stroke-width="1.2" fill="none"/>
<path d="M342.2 605.08L336.5 609.86" stroke="#333" stroke-width="0.8" fill="none"/>
<path d="M333.3 609.86H336.5" stroke="#000" stroke-width="1.5" fill="none"/>
<text transform="translate(328.5 615.91) scale(0.995 1)" font-family='"Liberation Sans", Arial, Helvetica, sans-serif' font-weight="700" font-size="16.0" text-anchor="end" fill="#000" stroke="#000" stroke-width="0.35">300</text>
<path d="M342.2 583.3H515.7" stroke="#5e5e5e" stroke-width="1.2" fill="none"/>
<path d="M342.2 583.3L336.5 588.15" stroke="#333" stroke-width="0.8" fill="none"/>
<path d="M333.3 588.15H336.5" stroke="#000" stroke-width="1.5" fill="none"/>
<text transform="translate(328.5 594.17) scale(0.995 1)" font-family='"Liberation Sans", Arial, Helvetica, sans-serif' font-weight="700" font-size="16.0" text-anchor="end" fill="#000" stroke="#000" stroke-width="0.35">400</text>
<path d="M342.2 561.52H515.7" stroke="#5e5e5e" stroke-width="1.2" fill="none"/>
<path d="M342.2 561.52L336.5 566.44" stroke="#333" stroke-width="0.8" fill="none"/>
<path d="M333.3 566.44H336.5" stroke="#000" stroke-width="1.5" fill="none"/>
<text transform="translate(328.5 572.43) scale(0.995 1)" font-family='"Liberation Sans", Arial, Helvetica, sans-serif' font-weight="700" font-size="16.0" text-anchor="end" fill="#000" stroke="#000" stroke-width="0.35">500</text>
<path d="M342.2 539.75H515.7" stroke="#5e5e5e" stroke-width="1.2" fill="none"/>
<path d="M342.2 539.75L336.5 544.73" stroke="#333" stroke-width="0.8" fill="none"/>
<path d="M333.3 544.73H336.5" stroke="#000" stroke-width="1.5" fill="none"/>
<text transform="translate(328.5 550.69) scale(0.995 1)" font-family='"Liberation Sans", Arial, Helvetica, sans-serif' font-weight="700" font-size="16.0" text-anchor="end" fill="#000" stroke="#000" stroke-width="0.35">600</text>
<path d="M342.2 517.98H515.7" stroke="#5e5e5e" stroke-width="1.2" fill="none"/>
<path d="M342.2 517.98L336.5 523.01" stroke="#333" stroke-width="0.8" fill="none"/>
<path d="M333.3 523.01H336.5" stroke="#000" stroke-width="1.5" fill="none"/>
<text transform="translate(328.5 528.95) scale(0.995 1)" font-family='"Liberation Sans", Arial, Helvetica, sans-serif' font-weight="700" font-size="16.0" text-anchor="end" fill="#000" stroke="#000" stroke-width="0.35">700</text>
<path d="M333.3 501.3H336.5" stroke="#000" stroke-width="1.5" fill="none"/>
<text transform="translate(328.5 507.21) scale(0.995 1)" font-family='"Liberation Sans", Arial, Helvetica, sans-serif' font-weight="700" font-size="16.0" text-anchor="end" fill="#000" stroke="#000" stroke-width="0.35">800</text>
<path d="M336.5 500.7V676" stroke="#000" stroke-width="2.5" fill="none"/>
<rect x="361.09" y="673.4" width="5.8" height="1.5" fill="#d0d0d0"/>
<path d="M342.2 652.5L345.1 649.7L353.7 649.7L353.7 670.6L350.2 673.4L342.2 673.4Z" fill="#000"/>
<path d="M349.5 656.42L352.4 653.62L360.5 653.62L360.5 670.6L357 673.4L349.5 673.4Z" fill="#000"/>
<rect x="351" y="657.82" width="6" height="14.78" fill="url(#h)"/>
<rect x="385.97" y="673.4" width="5.8" height="1.5" fill="#d0d0d0"/>
<path d="M367.09 643.79L369.99 640.99L378.59 640.99L378.59 670.6L375.09 673.4L367.09 673.4Z" fill="#000"/>
<path d="M374.39 647.27L377.29 644.47L385.39 644.47L385.39 670.6L381.89 673.4L374.39 673.4Z" fill="#000"/>
<rect x="375.89" y="648.67" width="6" height="23.93" fill="url(#h)"/>
<rect x="410.86" y="673.4" width="5.8" height="1.5" fill="#d0d0d0"/>
<path d="M391.97 658.16L394.87 655.36L403.47 655.36L403.47 670.6L399.97 673.4L391.97 673.4Z" fill="#000"/>
<rect x="435.74" y="673.4" width="5.8" height="1.5" fill="#d0d0d0"/>
<path d="M416.86 591.09L419.76 588.29L428.36 588.29L428.36 670.6L424.86 673.4L416.86 673.4Z" fill="#000"/>
<path d="M424.16 506.17L427.06 503.37L435.16 503.37L435.16 670.6L431.66 673.4L424.16 673.4Z" fill="#000"/>
<rect x="425.66" y="507.57" width="6" height="165.03" fill="url(#h)"/>
<rect x="460.63" y="673.4" width="5.8" height="1.5" fill="#d0d0d0"/>
<path d="M441.74 566.7L444.64 563.9L453.24 563.9L453.24 670.6L449.74 673.4L441.74 673.4Z" fill="#000"/>
<path d="M449.04 524.46L451.94 521.66L460.04 521.66L460.04 670.6L456.54 673.4L449.04 673.4Z" fill="#000"/>
<rect x="450.54" y="525.86" width="6" height="146.74" fill="url(#h)"/>
<rect x="485.51" y="673.4" width="5.8" height="1.5" fill="#d0d0d0"/>
<path d="M466.63 605.68L469.53 602.88L478.13 602.88L478.13 670.6L474.63 673.4L466.63 673.4Z" fill="#000"/>
<rect x="510.4" y="673.4" width="5.8" height="1.5" fill="#d0d0d0"/>
<path d="M491.51 618.09L494.41 615.29L503.01 615.29L503.01 670.6L499.51 673.4L491.51 673.4Z" fill="#000"/>
<path d="M498.81 577.37L501.71 574.57L509.81 574.57L509.81 670.6L506.31 673.4L498.81 673.4Z" fill="#000"/>
<rect x="500.31" y="578.77" width="6" height="93.83" fill="url(#h)"/>
<path d="M333.1 675.25H510.5" stroke="#000" stroke-width="3" fill="none"/>
<path d="M335.7 675v3.4" stroke="#000" stroke-width="1.6" fill="none"/>
<path d="M360.59 675v3.4" stroke="#000" stroke-width="1.6" fill="none"/>
<path d="M385.47 675v3.4" stroke="#000" stroke-width="1.6" fill="none"/>
<path d="M410.36 675v3.4" stroke="#000" stroke-width="1.6" fill="none"/>
<path d="M435.24 675v3.4" stroke="#000" stroke-width="1.6" fill="none"/>
<path d="M460.13 675v3.4" stroke="#000" stroke-width="1.6" fill="none"/>
<path d="M485.01 675v3.4" stroke="#000" stroke-width="1.6" fill="none"/>
<path d="M509.9 675v3.4" stroke="#000" stroke-width="1.6" fill="none"/>
<text transform="translate(348.8 692.3) scale(0.995 1)" font-family='"Liberation Sans", Arial, Helvetica, sans-serif' font-weight="700" font-size="16.0" text-anchor="middle" fill="#000" stroke="#000" stroke-width="0.35">C</text>
<text transform="translate(373.68 692.3) scale(0.995 1)" font-family='"Liberation Sans", Arial, Helvetica, sans-serif' font-weight="700" font-size="16.0" text-anchor="middle" fill="#000" stroke="#000" stroke-width="0.35">11</text>
<text transform="translate(398.56 692.3) scale(0.995 1)" font-family='"Liberation Sans", Arial, Helvetica, sans-serif' font-weight="700" font-size="16.0" text-anchor="middle" fill="#000" stroke="#000" stroke-width="0.35">14</text>
<text transform="translate(423.44 692.3) scale(0.995 1)" font-family='"Liberation Sans", Arial, Helvetica, sans-serif' font-weight="700" font-size="16.0" text-anchor="middle" fill="#000" stroke="#000" stroke-width="0.35">19</text>
<text transform="translate(448.32 692.3) scale(0.995 1)" font-family='"Liberation Sans", Arial, Helvetica, sans-serif' font-weight="700" font-size="16.0" text-anchor="middle" fill="#000" stroke="#000" stroke-width="0.35">26</text>
<text transform="translate(473.2 692.3) scale(0.995 1)" font-family='"Liberation Sans", Arial, Helvetica, sans-serif' font-weight="700" font-size="16.0" text-anchor="middle" fill="#000" stroke="#000" stroke-width="0.35">33</text>
<text transform="translate(498.08 692.3) scale(0.995 1)" font-family='"Liberation Sans", Arial, Helvetica, sans-serif' font-weight="700" font-size="16.0" text-anchor="middle" fill="#000" stroke="#000" stroke-width="0.35">40</text>
</g>
<text transform="translate(22.8 337.5) rotate(-90)" font-family='"Liberation Sans", Arial, Helvetica, sans-serif' font-weight="700" font-size="27.65" text-anchor="middle" fill="#000" stroke="#000" stroke-width="0.4">TOTAL NO. COLONIES/FEMUR</text>
<text x="297.5" y="731" font-family='"Liberation Sans", Arial, Helvetica, sans-serif' font-weight="700" font-size="27.45" text-anchor="middle" fill="#000" stroke="#000" stroke-width="0.4">DAYS AFTER 5-FU</text>
</svg>
</body></html>
